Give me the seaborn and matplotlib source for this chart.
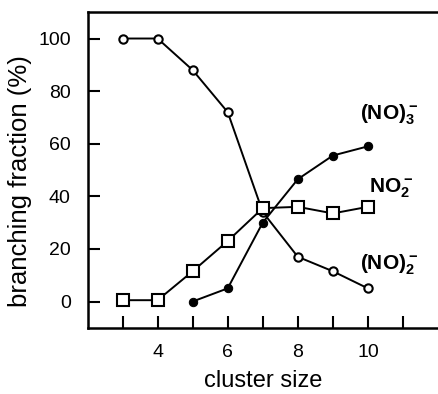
import matplotlib
matplotlib.use("Agg")
import matplotlib.pyplot as plt
import seaborn as sns
import pandas as pd

# Data
cluster_size = [3, 4, 5, 6, 7, 8, 9, 10]
no2_dimer = [100, 100, 88, 72, 34, 17, 11.5, 5]      # (NO)2-  open circles
no2_anion = [0.5, 0.5, 11.5, 23, 35.5, 36, 33.5, 36]  # NO2-    open squares
trimer_size = [5, 6, 7, 8, 9, 10]
no3_trimer = [0, 5, 30, 46.5, 55.5, 59]               # (NO)3-  filled circles

x_ticks = [3, 4, 5, 6, 7, 8, 9, 10, 11]
x_ticklabels = ["", "4", "", "6", "", "8", "", "10", ""]
y_ticks = [0, 20, 40, 60, 80, 100]

sns.set_style("ticks")
plt.rcParams["font.family"] = ["Liberation Sans", "DejaVu Sans"]
plt.rcParams["mathtext.fontset"] = "custom"
plt.rcParams["mathtext.rm"] = "Liberation Sans"
plt.rcParams["mathtext.bf"] = "Liberation Sans:bold"
plt.rcParams["text.color"] = "black"
plt.rcParams["axes.labelcolor"] = "black"
plt.rcParams["xtick.color"] = "black"
plt.rcParams["ytick.color"] = "black"
plt.rcParams["axes.edgecolor"] = "black"

fig = plt.figure(figsize=(4.38, 3.94), dpi=100)
ax = fig.add_axes([0.1998, 0.168, 0.8002, 0.801])

df_a = pd.DataFrame({"size": cluster_size, "value": no2_dimer})
df_b = pd.DataFrame({"size": cluster_size, "value": no2_anion})
df_c = pd.DataFrame({"size": trimer_size, "value": no3_trimer})

sns.lineplot(data=df_a, x="size", y="value", ax=ax, color="black", lw=1.4,
             marker="o", markersize=6, markerfacecolor="white",
             markeredgecolor="black", markeredgewidth=1.5, zorder=3)
sns.lineplot(data=df_c, x="size", y="value", ax=ax, color="black", lw=1.4,
             marker="o", markersize=6, markerfacecolor="black",
             markeredgecolor="black", zorder=4)
sns.lineplot(data=df_b, x="size", y="value", ax=ax, color="black", lw=1.4,
             marker="s", markersize=8.5, markerfacecolor="white",
             markeredgecolor="black", markeredgewidth=1.5, zorder=5)

ax.set_xlim(2, 12)
ax.set_ylim(-10, 110)
ax.set_xticks(x_ticks)
ax.set_xticklabels(x_ticklabels)
ax.set_yticks(y_ticks)
ax.tick_params(direction="in", length=8.5, width=1.5, labelsize=14, pad=12)
for side in ["left", "top", "bottom"]:
    ax.spines[side].set_linewidth(1.8)
ax.spines["right"].set_visible(False)

ax.set_xlabel("cluster size", fontsize=17, labelpad=6)
ax.set_ylabel("branching fraction (%)", fontsize=18.5, labelpad=6)
ax.yaxis.set_label_coords(-0.158, 0.465)

# Series labels
ax.text(10.6, 71, r"$\mathbf{(NO)_3^-}$", fontsize=15, ha="center", va="center")
ax.text(10.67, 43, r"$\mathbf{NO_2^-}$", fontsize=15, ha="center", va="center")
ax.text(10.6, 14, r"$\mathbf{(NO)_2^-}$", fontsize=15, ha="center", va="center")

fig.savefig("out.png", dpi=100)
